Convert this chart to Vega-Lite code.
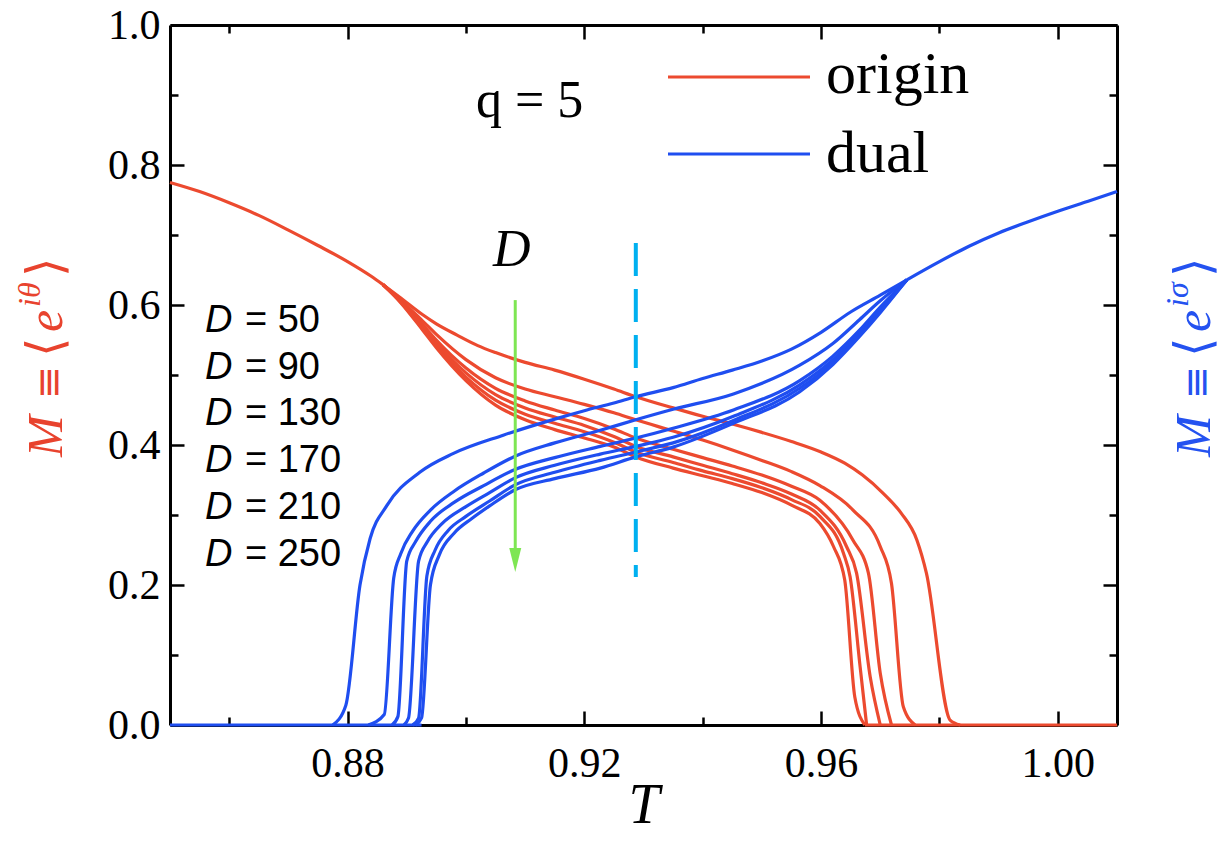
{
"$schema": "https://vega.github.io/schema/vega-lite/v6.json",
"width": 947, "height": 700,
"autosize": {"type": "none"},
"padding": {"left": 170, "top": 25, "right": 107, "bottom": 120},
"background": "white",
"config": {"view": {"stroke": null}, "axis": {"grid": false, "domainColor": "#000", "tickColor": "#000", "labelColor": "#000", "titleColor": "#000", "labelFont": "Liberation Serif", "labelFontSize": 42, "tickWidth": 2.5, "domainWidth": 3}},
"resolve": {"axis": {"x": "independent", "y": "independent"}},
"datasets": {"one": [{}], "curves": [
{"k":"origin","s":"oc","T":0.85,"M":0.775},{"k":"origin","s":"oc","T":0.855,"M":0.762},{"k":"origin","s":"oc","T":0.86,"M":0.746},{"k":"origin","s":"oc","T":0.865,"M":0.728},{"k":"origin","s":"oc","T":0.87,"M":0.707},{"k":"origin","s":"oc","T":0.875,"M":0.685},{"k":"origin","s":"oc","T":0.88,"M":0.662},{"k":"origin","s":"oc","T":0.884,"M":0.641},{"k":"origin","s":"oc","T":0.886,"M":0.629},
{"k":"origin","s":"o50","T":0.886,"M":0.629},{"k":"origin","s":"o50","T":0.889,"M":0.61},{"k":"origin","s":"o50","T":0.8927,"M":0.586},{"k":"origin","s":"o50","T":0.895,"M":0.573},{"k":"origin","s":"o50","T":0.8985,"M":0.557},{"k":"origin","s":"o50","T":0.902,"M":0.542},{"k":"origin","s":"o50","T":0.905,"M":0.532},{"k":"origin","s":"o50","T":0.91,"M":0.518},{"k":"origin","s":"o50","T":0.915,"M":0.507},{"k":"origin","s":"o50","T":0.92,"M":0.494},{"k":"origin","s":"o50","T":0.925,"M":0.48},{"k":"origin","s":"o50","T":0.9287,"M":0.469},{"k":"origin","s":"o50","T":0.935,"M":0.453},{"k":"origin","s":"o50","T":0.94,"M":0.441},{"k":"origin","s":"o50","T":0.945,"M":0.43},{"k":"origin","s":"o50","T":0.95,"M":0.418},{"k":"origin","s":"o50","T":0.955,"M":0.405},{"k":"origin","s":"o50","T":0.96,"M":0.39},{"k":"origin","s":"o50","T":0.964,"M":0.374},{"k":"origin","s":"o50","T":0.967,"M":0.357},{"k":"origin","s":"o50","T":0.9705,"M":0.331},{"k":"origin","s":"o50","T":0.9735,"M":0.303},{"k":"origin","s":"o50","T":0.9762,"M":0.264},{"k":"origin","s":"o50","T":0.9778,"M":0.217},{"k":"origin","s":"o50","T":0.9818,"M":0.007},{"k":"origin","s":"o50","T":0.9835,"M":0},
{"k":"origin","s":"o90","T":0.886,"M":0.629},{"k":"origin","s":"o90","T":0.889,"M":0.607},{"k":"origin","s":"o90","T":0.8927,"M":0.577},{"k":"origin","s":"o90","T":0.895,"M":0.558},{"k":"origin","s":"o90","T":0.9,"M":0.522},{"k":"origin","s":"o90","T":0.905,"M":0.496},{"k":"origin","s":"o90","T":0.91,"M":0.48},{"k":"origin","s":"o90","T":0.915,"M":0.469},{"k":"origin","s":"o90","T":0.92,"M":0.458},{"k":"origin","s":"o90","T":0.925,"M":0.446},{"k":"origin","s":"o90","T":0.9287,"M":0.436},{"k":"origin","s":"o90","T":0.935,"M":0.42},{"k":"origin","s":"o90","T":0.94,"M":0.407},{"k":"origin","s":"o90","T":0.945,"M":0.393},{"k":"origin","s":"o90","T":0.95,"M":0.378},{"k":"origin","s":"o90","T":0.955,"M":0.362},{"k":"origin","s":"o90","T":0.9598,"M":0.342},{"k":"origin","s":"o90","T":0.9654,"M":0.307},{"k":"origin","s":"o90","T":0.97,"M":0.255},{"k":"origin","s":"o90","T":0.9719,"M":0.202},{"k":"origin","s":"o90","T":0.9739,"M":0.026},{"k":"origin","s":"o90","T":0.9759,"M":0},
{"k":"origin","s":"o130","T":0.886,"M":0.629},{"k":"origin","s":"o130","T":0.889,"M":0.606},{"k":"origin","s":"o130","T":0.8927,"M":0.572},{"k":"origin","s":"o130","T":0.895,"M":0.55},{"k":"origin","s":"o130","T":0.9,"M":0.51},{"k":"origin","s":"o130","T":0.905,"M":0.481},{"k":"origin","s":"o130","T":0.91,"M":0.463},{"k":"origin","s":"o130","T":0.915,"M":0.45},{"k":"origin","s":"o130","T":0.92,"M":0.438},{"k":"origin","s":"o130","T":0.925,"M":0.423},{"k":"origin","s":"o130","T":0.9287,"M":0.41},{"k":"origin","s":"o130","T":0.935,"M":0.394},{"k":"origin","s":"o130","T":0.94,"M":0.382},{"k":"origin","s":"o130","T":0.945,"M":0.37},{"k":"origin","s":"o130","T":0.95,"M":0.357},{"k":"origin","s":"o130","T":0.955,"M":0.341},{"k":"origin","s":"o130","T":0.9598,"M":0.321},{"k":"origin","s":"o130","T":0.9654,"M":0.264},{"k":"origin","s":"o130","T":0.968,"M":0.217},{"k":"origin","s":"o130","T":0.97,"M":0.074},{"k":"origin","s":"o130","T":0.9719,"M":0},
{"k":"origin","s":"o170","T":0.886,"M":0.629},{"k":"origin","s":"o170","T":0.889,"M":0.605},{"k":"origin","s":"o170","T":0.8927,"M":0.569},{"k":"origin","s":"o170","T":0.895,"M":0.546},{"k":"origin","s":"o170","T":0.9,"M":0.503},{"k":"origin","s":"o170","T":0.905,"M":0.472},{"k":"origin","s":"o170","T":0.91,"M":0.453},{"k":"origin","s":"o170","T":0.915,"M":0.44},{"k":"origin","s":"o170","T":0.92,"M":0.428},{"k":"origin","s":"o170","T":0.925,"M":0.412},{"k":"origin","s":"o170","T":0.9287,"M":0.398},{"k":"origin","s":"o170","T":0.935,"M":0.383},{"k":"origin","s":"o170","T":0.94,"M":0.371},{"k":"origin","s":"o170","T":0.945,"M":0.359},{"k":"origin","s":"o170","T":0.95,"M":0.346},{"k":"origin","s":"o170","T":0.955,"M":0.33},{"k":"origin","s":"o170","T":0.9598,"M":0.307},{"k":"origin","s":"o170","T":0.9643,"M":0.255},{"k":"origin","s":"o170","T":0.966,"M":0.217},{"k":"origin","s":"o170","T":0.9683,"M":0.069},{"k":"origin","s":"o170","T":0.97,"M":0},
{"k":"origin","s":"o210","T":0.886,"M":0.629},{"k":"origin","s":"o210","T":0.889,"M":0.604},{"k":"origin","s":"o210","T":0.8927,"M":0.566},{"k":"origin","s":"o210","T":0.895,"M":0.542},{"k":"origin","s":"o210","T":0.9,"M":0.497},{"k":"origin","s":"o210","T":0.905,"M":0.464},{"k":"origin","s":"o210","T":0.91,"M":0.444},{"k":"origin","s":"o210","T":0.915,"M":0.431},{"k":"origin","s":"o210","T":0.92,"M":0.419},{"k":"origin","s":"o210","T":0.925,"M":0.404},{"k":"origin","s":"o210","T":0.9287,"M":0.39},{"k":"origin","s":"o210","T":0.935,"M":0.375},{"k":"origin","s":"o210","T":0.94,"M":0.363},{"k":"origin","s":"o210","T":0.945,"M":0.352},{"k":"origin","s":"o210","T":0.95,"M":0.339},{"k":"origin","s":"o210","T":0.955,"M":0.322},{"k":"origin","s":"o210","T":0.9598,"M":0.298},{"k":"origin","s":"o210","T":0.9638,"M":0.245},{"k":"origin","s":"o210","T":0.9649,"M":0.212},{"k":"origin","s":"o210","T":0.9666,"M":0.083},{"k":"origin","s":"o210","T":0.9677,"M":0},
{"k":"origin","s":"o250","T":0.886,"M":0.629},{"k":"origin","s":"o250","T":0.889,"M":0.603},{"k":"origin","s":"o250","T":0.8927,"M":0.564},{"k":"origin","s":"o250","T":0.895,"M":0.539},{"k":"origin","s":"o250","T":0.9,"M":0.492},{"k":"origin","s":"o250","T":0.905,"M":0.457},{"k":"origin","s":"o250","T":0.91,"M":0.436},{"k":"origin","s":"o250","T":0.915,"M":0.422},{"k":"origin","s":"o250","T":0.92,"M":0.41},{"k":"origin","s":"o250","T":0.925,"M":0.397},{"k":"origin","s":"o250","T":0.9287,"M":0.383},{"k":"origin","s":"o250","T":0.935,"M":0.367},{"k":"origin","s":"o250","T":0.94,"M":0.356},{"k":"origin","s":"o250","T":0.945,"M":0.345},{"k":"origin","s":"o250","T":0.95,"M":0.332},{"k":"origin","s":"o250","T":0.955,"M":0.314},{"k":"origin","s":"o250","T":0.9598,"M":0.288},{"k":"origin","s":"o250","T":0.9621,"M":0.255},{"k":"origin","s":"o250","T":0.964,"M":0.207},{"k":"origin","s":"o250","T":0.9657,"M":0.04},{"k":"origin","s":"o250","T":0.9674,"M":0},
{"k":"origin","s":"ot","T":0.9674,"M":0},{"k":"origin","s":"ot","T":1.01,"M":0},
{"k":"dual","s":"dc","T":0.85,"M":0},{"k":"dual","s":"dc","T":0.8925,"M":0},
{"k":"dual","s":"d50","T":0.8775,"M":0},{"k":"dual","s":"d50","T":0.8797,"M":0.028},{"k":"dual","s":"d50","T":0.8821,"M":0.2},{"k":"dual","s":"d50","T":0.8838,"M":0.266},{"k":"dual","s":"d50","T":0.8866,"M":0.313},{"k":"dual","s":"d50","T":0.8922,"M":0.361},{"k":"dual","s":"d50","T":0.8979,"M":0.388},{"k":"dual","s":"d50","T":0.9063,"M":0.414},{"k":"dual","s":"d50","T":0.915,"M":0.437},{"k":"dual","s":"d50","T":0.92,"M":0.449},{"k":"dual","s":"d50","T":0.925,"M":0.46},{"k":"dual","s":"d50","T":0.9287,"M":0.469},{"k":"dual","s":"d50","T":0.935,"M":0.482},{"k":"dual","s":"d50","T":0.94,"M":0.495},{"k":"dual","s":"d50","T":0.945,"M":0.507},{"k":"dual","s":"d50","T":0.95,"M":0.52},{"k":"dual","s":"d50","T":0.955,"M":0.537},{"k":"dual","s":"d50","T":0.96,"M":0.561},{"k":"dual","s":"d50","T":0.965,"M":0.59},{"k":"dual","s":"d50","T":0.97,"M":0.614},{"k":"dual","s":"d50","T":0.9745,"M":0.636},
{"k":"dual","s":"d90","T":0.8835,"M":0},{"k":"dual","s":"d90","T":0.8862,"M":0.015},{"k":"dual","s":"d90","T":0.8878,"M":0.21},{"k":"dual","s":"d90","T":0.889,"M":0.245},{"k":"dual","s":"d90","T":0.891,"M":0.277},{"k":"dual","s":"d90","T":0.894,"M":0.307},{"k":"dual","s":"d90","T":0.898,"M":0.334},{"k":"dual","s":"d90","T":0.903,"M":0.36},{"k":"dual","s":"d90","T":0.9083,"M":0.384},{"k":"dual","s":"d90","T":0.915,"M":0.403},{"k":"dual","s":"d90","T":0.9227,"M":0.421},{"k":"dual","s":"d90","T":0.9287,"M":0.436},{"k":"dual","s":"d90","T":0.935,"M":0.451},{"k":"dual","s":"d90","T":0.9452,"M":0.473},{"k":"dual","s":"d90","T":0.9564,"M":0.514},{"k":"dual","s":"d90","T":0.962,"M":0.545},{"k":"dual","s":"d90","T":0.9665,"M":0.579},{"k":"dual","s":"d90","T":0.97,"M":0.606},{"k":"dual","s":"d90","T":0.9745,"M":0.636},
{"k":"dual","s":"d130","T":0.8875,"M":0},{"k":"dual","s":"d130","T":0.8885,"M":0.012},{"k":"dual","s":"d130","T":0.89,"M":0.234},{"k":"dual","s":"d130","T":0.8915,"M":0.262},{"k":"dual","s":"d130","T":0.894,"M":0.291},{"k":"dual","s":"d130","T":0.898,"M":0.318},{"k":"dual","s":"d130","T":0.903,"M":0.342},{"k":"dual","s":"d130","T":0.9083,"M":0.365},{"k":"dual","s":"d130","T":0.915,"M":0.382},{"k":"dual","s":"d130","T":0.9227,"M":0.398},{"k":"dual","s":"d130","T":0.9287,"M":0.41},{"k":"dual","s":"d130","T":0.935,"M":0.424},{"k":"dual","s":"d130","T":0.9452,"M":0.45},{"k":"dual","s":"d130","T":0.9564,"M":0.492},{"k":"dual","s":"d130","T":0.962,"M":0.527},{"k":"dual","s":"d130","T":0.9665,"M":0.564},{"k":"dual","s":"d130","T":0.97,"M":0.597},{"k":"dual","s":"d130","T":0.9745,"M":0.636},
{"k":"dual","s":"d170","T":0.8895,"M":0},{"k":"dual","s":"d170","T":0.8903,"M":0.01},{"k":"dual","s":"d170","T":0.892,"M":0.234},{"k":"dual","s":"d170","T":0.8935,"M":0.262},{"k":"dual","s":"d170","T":0.896,"M":0.288},{"k":"dual","s":"d170","T":0.9,"M":0.312},{"k":"dual","s":"d170","T":0.904,"M":0.332},{"k":"dual","s":"d170","T":0.9083,"M":0.353},{"k":"dual","s":"d170","T":0.915,"M":0.371},{"k":"dual","s":"d170","T":0.9227,"M":0.387},{"k":"dual","s":"d170","T":0.9287,"M":0.398},{"k":"dual","s":"d170","T":0.935,"M":0.411},{"k":"dual","s":"d170","T":0.9452,"M":0.441},{"k":"dual","s":"d170","T":0.9564,"M":0.486},{"k":"dual","s":"d170","T":0.962,"M":0.522},{"k":"dual","s":"d170","T":0.9665,"M":0.56},{"k":"dual","s":"d170","T":0.97,"M":0.594},{"k":"dual","s":"d170","T":0.9745,"M":0.636},
{"k":"dual","s":"d210","T":0.891,"M":0},{"k":"dual","s":"d210","T":0.892,"M":0.01},{"k":"dual","s":"d210","T":0.8934,"M":0.213},{"k":"dual","s":"d210","T":0.8948,"M":0.25},{"k":"dual","s":"d210","T":0.897,"M":0.278},{"k":"dual","s":"d210","T":0.9,"M":0.298},{"k":"dual","s":"d210","T":0.904,"M":0.32},{"k":"dual","s":"d210","T":0.9083,"M":0.343},{"k":"dual","s":"d210","T":0.915,"M":0.361},{"k":"dual","s":"d210","T":0.9227,"M":0.378},{"k":"dual","s":"d210","T":0.9287,"M":0.39},{"k":"dual","s":"d210","T":0.935,"M":0.403},{"k":"dual","s":"d210","T":0.9452,"M":0.435},{"k":"dual","s":"d210","T":0.9564,"M":0.481},{"k":"dual","s":"d210","T":0.962,"M":0.518},{"k":"dual","s":"d210","T":0.9665,"M":0.557},{"k":"dual","s":"d210","T":0.97,"M":0.591},{"k":"dual","s":"d210","T":0.9745,"M":0.636},
{"k":"dual","s":"d250","T":0.8915,"M":0},{"k":"dual","s":"d250","T":0.8925,"M":0.01},{"k":"dual","s":"d250","T":0.894,"M":0.2},{"k":"dual","s":"d250","T":0.8955,"M":0.243},{"k":"dual","s":"d250","T":0.898,"M":0.274},{"k":"dual","s":"d250","T":0.901,"M":0.295},{"k":"dual","s":"d250","T":0.904,"M":0.313},{"k":"dual","s":"d250","T":0.9083,"M":0.336},{"k":"dual","s":"d250","T":0.915,"M":0.352},{"k":"dual","s":"d250","T":0.9227,"M":0.367},{"k":"dual","s":"d250","T":0.9287,"M":0.383},{"k":"dual","s":"d250","T":0.935,"M":0.397},{"k":"dual","s":"d250","T":0.9452,"M":0.431},{"k":"dual","s":"d250","T":0.9564,"M":0.476},{"k":"dual","s":"d250","T":0.962,"M":0.515},{"k":"dual","s":"d250","T":0.9665,"M":0.555},{"k":"dual","s":"d250","T":0.97,"M":0.589},{"k":"dual","s":"d250","T":0.9745,"M":0.636},
{"k":"dual","s":"de","T":0.9745,"M":0.636},{"k":"dual","s":"de","T":0.98,"M":0.662},{"k":"dual","s":"de","T":0.985,"M":0.684},{"k":"dual","s":"de","T":0.99,"M":0.703},{"k":"dual","s":"de","T":0.995,"M":0.719},{"k":"dual","s":"de","T":1.0,"M":0.734},{"k":"dual","s":"de","T":1.005,"M":0.748},{"k":"dual","s":"de","T":1.01,"M":0.762}
]},
"layer": [
{"data": {"name": "curves"}, "transform": [{"filter": "datum.k === 'origin'"}],
 "mark": {"type": "line", "color": "#ec4a2f", "strokeWidth": 3.2, "interpolate": "monotone", "clip": false},
 "encoding": {
  "x": {"field": "T", "type": "quantitative", "scale": {"domain": [0.85, 1.01], "nice": false, "zero": false},
        "axis": {"orient": "bottom", "values": [0.88, 0.92, 0.96, 1.0], "format": ".2f", "tickSize": -14, "labelPadding": 32, "labelFlush": false, "labelOverlap": false, "title": "T", "titleFont": "Liberation Serif", "titleFontStyle": "italic", "titleFontWeight": "normal", "titleFontSize": 56, "titlePadding": -6}},
  "y": {"field": "M", "type": "quantitative", "scale": {"domain": [0, 1], "nice": false, "zero": false},
        "axis": {"orient": "left", "values": [0, 0.2, 0.4, 0.6, 0.8, 1.0], "format": ".1f", "tickSize": -14, "labelPadding": 24, "labelFlush": false, "labelOverlap": false, "title": null}},
  "detail": {"field": "s"}}},
{"data": {"name": "curves"}, "transform": [{"filter": "datum.k === 'dual'"}],
 "mark": {"type": "line", "color": "#1f4ef0", "strokeWidth": 3.2, "interpolate": "monotone", "clip": false},
 "encoding": {
  "x": {"field": "T", "type": "quantitative", "scale": {"domain": [0.85, 1.01], "nice": false, "zero": false},
        "axis": {"orient": "top", "values": [0.88, 0.92, 0.96, 1.0], "labels": false, "tickSize": -14, "title": null}},
  "y": {"field": "M", "type": "quantitative", "scale": {"domain": [0, 1], "nice": false, "zero": false},
        "axis": {"orient": "right", "values": [0, 0.2, 0.4, 0.6, 0.8, 1.0], "labels": false, "tickSize": -14, "title": null}},
  "detail": {"field": "s"}}},
{"data": {"name": "one"}, "mark": {"type": "rule", "color": "#00b0f0", "strokeWidth": 4, "strokeDash": [33, 13]},
 "encoding": {
  "x": {"datum": 0.9287, "type": "quantitative", "scale": {"domain": [0.85, 1.01], "nice": false, "zero": false},
        "axis": {"orient": "bottom", "values": [0.86, 0.9, 0.94, 0.98], "labels": false, "domain": false, "tickSize": -8, "title": null}},
  "y": {"datum": 0.6886, "type": "quantitative", "scale": {"domain": [0, 1], "nice": false, "zero": false},
        "axis": {"orient": "left", "values": [0.1, 0.3, 0.5, 0.7, 0.9], "labels": false, "domain": false, "tickSize": -8, "title": null}},
  "y2": {"datum": 0.2114}}},
{"data": {"name": "one"}, "mark": {"type": "rule", "color": "#7ee653", "strokeWidth": 3},
 "encoding": {
  "x": {"datum": 0.90833, "type": "quantitative", "scale": {"domain": [0.85, 1.01], "nice": false, "zero": false},
        "axis": {"orient": "top", "values": [0.86, 0.9, 0.94, 0.98], "labels": false, "domain": false, "tickSize": -8, "title": null}},
  "y": {"datum": 0.607, "type": "quantitative", "scale": {"domain": [0, 1], "nice": false, "zero": false},
        "axis": {"orient": "right", "values": [0.1, 0.3, 0.5, 0.7, 0.9], "labels": false, "domain": false, "tickSize": -8, "title": null}},
  "y2": {"datum": 0.245}}},
{"data": {"name": "one"}, "mark": {"type": "point", "shape": "M-0.5,-1L0.5,-1L0,1Z", "filled": true, "color": "#7ee653", "size": 576, "opacity": 1, "strokeWidth": 0},
 "encoding": {
  "x": {"datum": 0.90833, "type": "quantitative", "axis": null},
  "y": {"datum": 0.2357, "type": "quantitative", "axis": null}}},
{"data": {"name": "one"}, "mark": {"type": "rule", "color": "#ec4a2f", "strokeWidth": 3},
 "encoding": {"x": {"datum": 0.93414, "type": "quantitative", "axis": null}, "x2": {"datum": 0.95813}, "y": {"datum": 0.9257, "type": "quantitative", "axis": null}}},
{"data": {"name": "one"}, "mark": {"type": "rule", "color": "#1f4ef0", "strokeWidth": 3},
 "encoding": {"x": {"datum": 0.93414, "type": "quantitative", "axis": null}, "x2": {"datum": 0.95813}, "y": {"datum": 0.8157, "type": "quantitative", "axis": null}}},
{"data": {"name": "one"}, "mark": {"type": "text", "text": "origin", "align": "left", "baseline": "alphabetic", "font": "Liberation Serif", "fontSize": 60, "color": "#000"},
 "encoding": {"x": {"datum": 0.96083, "type": "quantitative", "axis": null}, "y": {"datum": 0.9029, "type": "quantitative", "axis": null}}},
{"data": {"name": "one"}, "mark": {"type": "text", "text": "dual", "align": "left", "baseline": "alphabetic", "font": "Liberation Serif", "fontSize": 60, "color": "#000"},
 "encoding": {"x": {"datum": 0.96083, "type": "quantitative", "axis": null}, "y": {"datum": 0.79, "type": "quantitative", "axis": null}}},
{"data": {"name": "one"}, "mark": {"type": "text", "text": "q = 5", "align": "left", "baseline": "alphabetic", "font": "Liberation Serif", "fontSize": 52, "color": "#000"},
 "encoding": {"x": {"datum": 0.9017, "type": "quantitative", "axis": null}, "y": {"datum": 0.8686, "type": "quantitative", "axis": null}}},
{"data": {"name": "one"}, "mark": {"type": "text", "text": "D", "align": "left", "baseline": "alphabetic", "font": "Liberation Serif", "fontStyle": "italic", "fontSize": 52, "color": "#000"},
 "encoding": {"x": {"datum": 0.90457, "type": "quantitative", "axis": null}, "y": {"datum": 0.6557, "type": "quantitative", "axis": null}}},
{"data": {"name": "one"}, "mark": {"type": "text", "text": ["D", "D", "D", "D", "D", "D"], "lineHeight": 46.7, "align": "left", "baseline": "alphabetic", "font": "Liberation Sans", "fontStyle": "italic", "fontSize": 38, "color": "#000"},
 "encoding": {"x": {"datum": 0.85591, "type": "quantitative", "axis": null}, "y": {"datum": 0.5614, "type": "quantitative", "axis": null}}},
{"data": {"name": "one"}, "mark": {"type": "text", "text": ["= 50", "= 90", "= 130", "= 170", "= 210", "= 250"], "lineHeight": 46.7, "align": "left", "baseline": "alphabetic", "font": "Liberation Sans", "fontSize": 38, "color": "#000"},
 "encoding": {"x": {"datum": 0.86267, "type": "quantitative", "axis": null}, "y": {"datum": 0.5614, "type": "quantitative", "axis": null}}},
{"data": {"name": "one"}, "mark": {"type": "text", "text": "M", "angle": 270, "align": "left", "baseline": "alphabetic", "font": "Liberation Serif", "fontStyle": "italic", "fontSize": 50, "color": "#e8432e"},
 "encoding": {"x": {"datum": 0.83175, "type": "quantitative", "axis": null}, "y": {"datum": 0.38286, "type": "quantitative", "axis": null}}},
{"data": {"name": "one"}, "mark": {"type": "text", "text": "≡", "angle": 270, "align": "left", "baseline": "alphabetic", "font": "DejaVu Sans", "fontSize": 40, "color": "#e8432e", "dx": 58},
 "encoding": {"x": {"datum": 0.83175, "type": "quantitative", "axis": null}, "y": {"datum": 0.38286, "type": "quantitative", "axis": null}}},
{"data": {"name": "one"}, "mark": {"type": "text", "text": "⟨", "angle": 270, "align": "left", "baseline": "alphabetic", "font": "DejaVu Sans", "fontSize": 50, "color": "#e8432e", "dx": 100},
 "encoding": {"x": {"datum": 0.83175, "type": "quantitative", "axis": null}, "y": {"datum": 0.38286, "type": "quantitative", "axis": null}}},
{"data": {"name": "one"}, "mark": {"type": "text", "text": "e", "angle": 270, "align": "left", "baseline": "alphabetic", "font": "Liberation Serif", "fontStyle": "italic", "fontSize": 50, "color": "#e8432e", "dx": 125},
 "encoding": {"x": {"datum": 0.83175, "type": "quantitative", "axis": null}, "y": {"datum": 0.38286, "type": "quantitative", "axis": null}}},
{"data": {"name": "one"}, "mark": {"type": "text", "text": "iθ", "angle": 270, "align": "left", "baseline": "alphabetic", "font": "Liberation Serif", "fontStyle": "italic", "fontSize": 32, "color": "#e8432e", "dx": 150, "dy": -22},
 "encoding": {"x": {"datum": 0.83175, "type": "quantitative", "axis": null}, "y": {"datum": 0.38286, "type": "quantitative", "axis": null}}},
{"data": {"name": "one"}, "mark": {"type": "text", "text": "⟩", "angle": 270, "align": "left", "baseline": "alphabetic", "font": "DejaVu Sans", "fontSize": 50, "color": "#e8432e", "dx": 180},
 "encoding": {"x": {"datum": 0.83175, "type": "quantitative", "axis": null}, "y": {"datum": 0.38286, "type": "quantitative", "axis": null}}},
{"data": {"name": "one"}, "mark": {"type": "text", "text": "M", "angle": 270, "align": "left", "baseline": "alphabetic", "font": "Liberation Serif", "fontStyle": "italic", "fontSize": 50, "color": "#2452f0"},
 "encoding": {"x": {"datum": 1.02571, "type": "quantitative", "axis": null}, "y": {"datum": 0.38286, "type": "quantitative", "axis": null}}},
{"data": {"name": "one"}, "mark": {"type": "text", "text": "≡", "angle": 270, "align": "left", "baseline": "alphabetic", "font": "DejaVu Sans", "fontSize": 40, "color": "#2452f0", "dx": 58},
 "encoding": {"x": {"datum": 1.02571, "type": "quantitative", "axis": null}, "y": {"datum": 0.38286, "type": "quantitative", "axis": null}}},
{"data": {"name": "one"}, "mark": {"type": "text", "text": "⟨", "angle": 270, "align": "left", "baseline": "alphabetic", "font": "DejaVu Sans", "fontSize": 50, "color": "#2452f0", "dx": 100},
 "encoding": {"x": {"datum": 1.02571, "type": "quantitative", "axis": null}, "y": {"datum": 0.38286, "type": "quantitative", "axis": null}}},
{"data": {"name": "one"}, "mark": {"type": "text", "text": "e", "angle": 270, "align": "left", "baseline": "alphabetic", "font": "Liberation Serif", "fontStyle": "italic", "fontSize": 50, "color": "#2452f0", "dx": 125},
 "encoding": {"x": {"datum": 1.02571, "type": "quantitative", "axis": null}, "y": {"datum": 0.38286, "type": "quantitative", "axis": null}}},
{"data": {"name": "one"}, "mark": {"type": "text", "text": "iσ", "angle": 270, "align": "left", "baseline": "alphabetic", "font": "Liberation Serif", "fontStyle": "italic", "fontSize": 32, "color": "#2452f0", "dx": 150, "dy": -22},
 "encoding": {"x": {"datum": 1.02571, "type": "quantitative", "axis": null}, "y": {"datum": 0.38286, "type": "quantitative", "axis": null}}},
{"data": {"name": "one"}, "mark": {"type": "text", "text": "⟩", "angle": 270, "align": "left", "baseline": "alphabetic", "font": "DejaVu Sans", "fontSize": 50, "color": "#2452f0", "dx": 180},
 "encoding": {"x": {"datum": 1.02571, "type": "quantitative", "axis": null}, "y": {"datum": 0.38286, "type": "quantitative", "axis": null}}}
]
}
